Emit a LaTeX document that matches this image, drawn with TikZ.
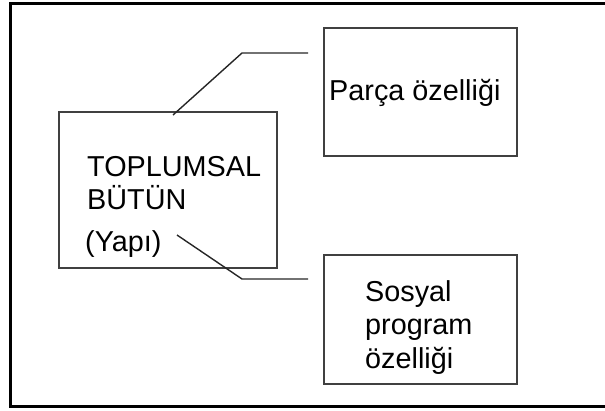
\documentclass[tikz,border=0pt]{standalone}
\usepackage{fontspec}
\setmainfont{Liberation Sans}
\usetikzlibrary{positioning}

\tikzset{
  box/.style={draw=black!75, line width=1.6pt, rectangle, inner sep=0pt},
  label text/.style={font=\fontsize{28.8}{33.5}\selectfont, inner sep=0pt, anchor=base west, align=left},
  link/.style={draw=black!85, line width=1.4pt}
}

\begin{document}
\begin{tikzpicture}[x=1pt, y=-1pt]
            \useasboundingbox (0,0) rectangle (605,410);
            % outer frame, right side runs off the page
            \draw[line width=3pt] (605,3.5) -- (10.5,3.5) -- (10.5,406) -- (605,406);

            \node[box, minimum width=218pt, minimum height=156pt] (butun) at (168,190) {};
            \node[box, minimum width=193pt, minimum height=128pt] (parca) at (420.5,92) {};
            \node[box, minimum width=193pt, minimum height=129pt] (sosyal) at (420.5,319.5) {};

            % base anchor sits on the last line
            \node[label text] (butuntext) at (87,209.5) {TOPLUMSAL\\BÜTÜN};
            \node[label text] (yapi) at (85,251.5) {(Yapı)};
            \node[label text] (parcatext) at (329,100) {Parça özelliği};
            \node[label text] (sosyaltext) at (365,368) {Sosyal\\program\\özelliği};

            \coordinate (topstart) at (173,115);
            \coordinate (topbend) at (242,53);
            \coordinate (topend) at (308,53);
            \coordinate (lowstart) at (177,235);
            \coordinate (lowbend) at (242,279);
            \coordinate (lowend) at (308,279);

            \draw[link] (topstart) -- (topbend) -- (topend);
            \draw[link] (lowstart) -- (lowbend) -- (lowend);
        \end{tikzpicture}
\end{document}
